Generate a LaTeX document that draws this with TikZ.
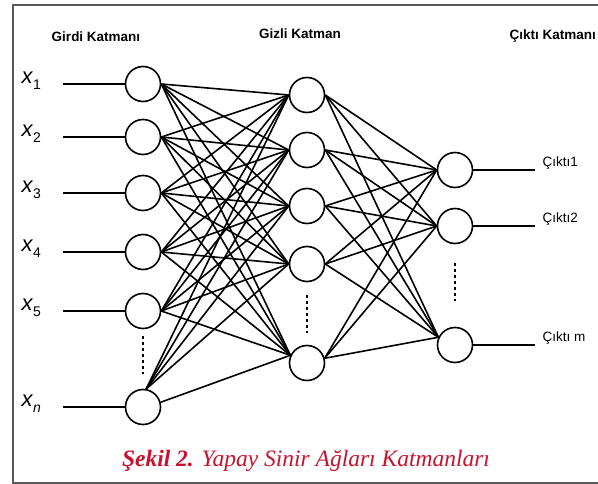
\documentclass[tikz,border=0pt]{standalone}
\usepackage{fontspec}
\setmainfont{Liberation Serif}
\setsansfont{Liberation Sans}
\usetikzlibrary{positioning}

\definecolor{caprot}{RGB}{200,18,46}

\newcommand{\xin}[1]{\textit{x}\raisebox{-0.5ex}{\fontsize{14}{14}\selectfont #1}}

\begin{document}
\begin{tikzpicture}[%
    x=1pt, y=-1pt,
    neuron/.style={circle, draw, line width=1.6pt, minimum size=35pt, inner sep=0pt},
    link/.style={line width=1.6pt},
    layer/.style={font=\sffamily\bfseries\fontsize{13.5}{13.5}\selectfont},
    xlabel/.style={font=\sffamily\fontsize{22}{22}\selectfont, anchor=west},
    outlabel/.style={font=\sffamily\fontsize{13.5}{13.5}\selectfont, anchor=west}
    ]
    \useasboundingbox (0,0) rectangle (598,484);
    \draw[line width=1.3pt, black!65] (625,5) -- (13,5) -- (13,483) -- (625,483);

    % layer titles
    \node[layer] (tin)  at (96,37)  {Girdi Katmanı};
    \node[layer] (thid) at (300,34) {Gizli Katman};
    \node[layer, anchor=west] (tout) at (506,36) {Çıktı Katmanı};

    % input layer
    \node[neuron] (in1) at (143,84)  {};
    \node[neuron] (in2) at (143,137) {};
    \node[neuron] (in3) at (143,193) {};
    \node[neuron] (in4) at (143,252) {};
    \node[neuron] (in5) at (143,311) {};
    \node[neuron] (inn) at (143,407) {};

    % hidden layer
    \node[neuron] (hid1) at (307,95)  {};
    \node[neuron] (hid2) at (307,150) {};
    \node[neuron] (hid3) at (307,206) {};
    \node[neuron] (hid4) at (307,264) {};
    \node[neuron] (hidm) at (307,363) {};

    % output layer
    \node[neuron] (out1) at (455,170) {};
    \node[neuron] (out2) at (455,226) {};
    \node[neuron] (outm) at (455,345) {};

    % inputs
    \foreach \i/\y in {1/84,2/137,3/193,4/252,5/311,n/407} {
        \coordinate (a\i) at (63,\y);
        \draw[link] (a\i) -- (in\i);
    }
    \foreach \i/\y in {1/84,2/137,3/193,4/252,5/311}
        \node[xlabel] (lx\i) at (18,\y-3) {\xin{\i}};
    \node[xlabel] (lxn) at (18,404) {\xin{\itshape n}};

    % outputs
    \foreach \k/\t in {1/Çıktı1,2/Çıktı2,m/Çıktı m} {
        \coordinate (b\k) at (535,0 |- out\k);
        \draw[link] (out\k) -- (b\k);
        \node[outlabel] (ly\k) at ([xshift=4pt,yshift=7pt]b\k.east) {\t};
    }

    % input -> hidden
    \foreach \i in {1,...,5} {
        \foreach \j in {1,...,4}
            \draw[link] (in\i.east) -- (hid\j.west);
        \draw[link] (in\i.east) -- (hidm.155);
    }
    \foreach \j in {1,...,4}
        \draw[link] (inn.80) -- (hid\j.west);
    \draw[link] (inn.15) -- (hidm.155);

    % hidden -> output
    \foreach \j in {1,...,4} {
        \draw[link] (hid\j.east) -- (out1.west);
        \draw[link] (hid\j.east) -- (out2.west);
        \draw[link] (hid\j.east) -- (outm.155);
    }
    \draw[link] (hidm.15) -- (out1.west);
    \draw[link] (hidm.15) -- (out2.west);
    \draw[link] (hidm.15) -- (outm.155);

    % omitted neurons
    \draw[line width=1.6pt, dash pattern=on 3pt off 3pt] (143,336) -- (143,374);
    \draw[line width=1.6pt, dash pattern=on 3pt off 3pt] (307,295) -- (307,333);
    \draw[line width=1.6pt, dash pattern=on 3pt off 3pt] (455,263) -- (455,301);

    \node[text=caprot, font=\itshape\fontsize{23.5}{23.5}\selectfont] (cap) at (306,461)
        {\textbf{Şekil 2.} Yapay Sinir Ağları Katmanları};
\end{tikzpicture}
\end{document}
